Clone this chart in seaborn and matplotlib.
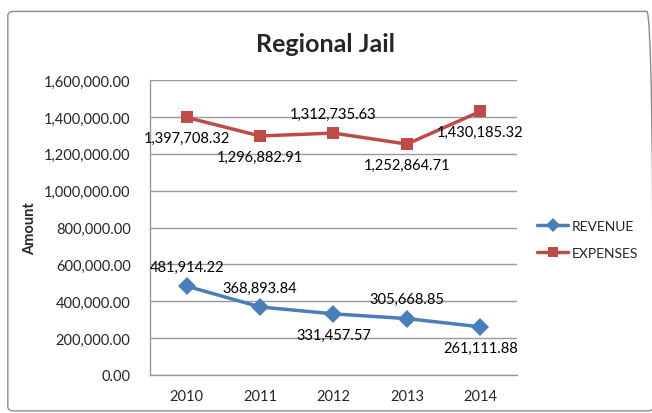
import matplotlib
matplotlib.use("Agg")
import matplotlib.pyplot as plt
import seaborn as sns
import pandas as pd
from matplotlib.patches import FancyBboxPatch

years = ["2010", "2011", "2012", "2013", "2014"]
revenue = [481914.22, 368893.84, 331457.57, 305668.85, 261111.88]
expenses = [1397708.32, 1296882.91, 1312735.63, 1252864.71, 1430185.32]
rev_pos = ["above", "above", "below", "above", "below"]
exp_pos = ["below", "below", "above", "below", "below"]

sns.set_theme(style="white")
plt.rcParams["font.family"] = ["Lato", "DejaVu Sans"]

df = pd.DataFrame({"year": years * 2,
                   "amount": revenue + expenses,
                   "series": ["REVENUE"] * 5 + ["EXPENSES"] * 5})

fig = plt.figure(figsize=(6.52, 4.14), dpi=100)
fig.patches.append(FancyBboxPatch((0.012, 0.005), 0.99, 0.965,
                                  boxstyle="round,pad=0,rounding_size=0.01",
                                  transform=fig.transFigure, fill=False,
                                  edgecolor="#8c8c8c", linewidth=1.0))
ax = fig.add_axes([0.230, 0.092, 0.563, 0.712])

palette = {"REVENUE": "#4a7ebb", "EXPENSES": "#be4b48"}
markers = {"REVENUE": "D", "EXPENSES": "s"}
sns.lineplot(data=df, x="year", y="amount", hue="series", style="series",
             palette=palette, markers=markers, dashes=False, linewidth=2.5,
             markersize=9, markeredgewidth=0, ax=ax, sort=False)

ax.set_ylim(0, 1600000)
ax.set_xlim(-0.5, 4.5)
ax.set_yticks(range(0, 1600001, 200000))
ax.set_yticklabels([f"{v:,.2f}" for v in range(0, 1600001, 200000)], fontsize=10.5)
ax.tick_params(axis="x", labelsize=10.5, length=0, pad=10)
ax.tick_params(axis="y", length=0, pad=14)
ax.yaxis.grid(True, color="#999999", linewidth=1)
ax.set_axisbelow(True)
for s in ["top", "right"]:
    ax.spines[s].set_visible(False)
for s in ["left", "bottom"]:
    ax.spines[s].set_color("#999999")
    ax.spines[s].set_linewidth(1)
ax.set_xlabel("")
ax.set_ylabel("Amount", fontsize=10.5, fontweight="bold", labelpad=5)

for vals, pos in [(revenue, rev_pos), (expenses, exp_pos)]:
    for i, (v, p) in enumerate(zip(vals, pos)):
        dy = 14 if p == "above" else -15
        ax.annotate(f"{v:,.2f}", (i, v), xytext=(0, dy), textcoords="offset points",
                    ha="center", va="center", fontsize=10.5, color="black")

fig.text(0.5, 0.893, "Regional Jail", ha="center", va="center",
         fontsize=18, fontweight="bold")

handles, labels = ax.get_legend_handles_labels()
ax.legend(handles, labels, loc="center left", bbox_to_anchor=(1.04, 0.46),
          frameon=False, fontsize=10, handlelength=2.2, handletextpad=0.3,
          markerscale=0.75, labelspacing=1.1, borderaxespad=0)

fig.savefig("out.png", dpi=100)
